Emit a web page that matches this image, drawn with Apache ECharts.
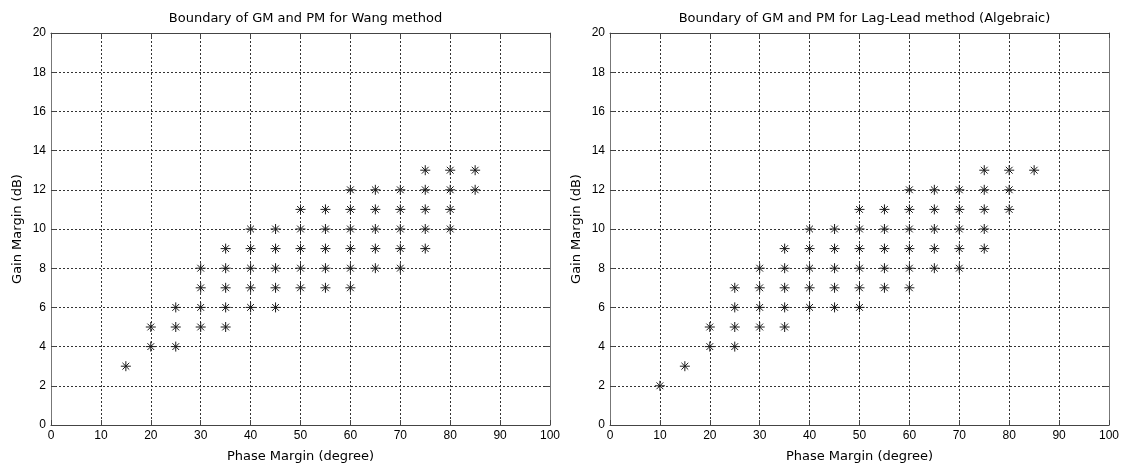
<!DOCTYPE html>
<html>
<head>
<meta charset="utf-8">
<script src="https://cdn.jsdelivr.net/npm/echarts@6/dist/echarts.min.js"></script>
<style>
  html, body { margin: 0; padding: 0; background: #fff; }
  #chart { width: 1132px; height: 468px; }
</style>
</head>
<body>
<div id="chart"></div>
<script>
// Phase margin (degree) / gain margin (dB) pairs that meet the design boundary
const wangPoints = [
  [15, 3],
  [20, 4], [20, 5],
  [25, 4], [25, 5], [25, 6],
  [30, 5], [30, 6], [30, 7], [30, 8],
  [35, 5], [35, 6], [35, 7], [35, 8], [35, 9],
  [40, 6], [40, 7], [40, 8], [40, 9], [40, 10],
  [45, 6], [45, 7], [45, 8], [45, 9], [45, 10],
  [50, 7], [50, 8], [50, 9], [50, 10], [50, 11],
  [55, 7], [55, 8], [55, 9], [55, 10], [55, 11],
  [60, 7], [60, 8], [60, 9], [60, 10], [60, 11], [60, 12],
  [65, 8], [65, 9], [65, 10], [65, 11], [65, 12],
  [70, 8], [70, 9], [70, 10], [70, 11], [70, 12],
  [75, 9], [75, 10], [75, 11], [75, 12], [75, 13],
  [80, 10], [80, 11], [80, 12], [80, 13],
  [85, 12], [85, 13]
];

const lagLeadPoints = [
  [10, 2],
  [15, 3],
  [20, 4], [20, 5],
  [25, 4], [25, 5], [25, 6], [25, 7],
  [30, 5], [30, 6], [30, 7], [30, 8],
  [35, 5], [35, 6], [35, 7], [35, 8], [35, 9],
  [40, 6], [40, 7], [40, 8], [40, 9], [40, 10],
  [45, 6], [45, 7], [45, 8], [45, 9], [45, 10],
  [50, 6], [50, 7], [50, 8], [50, 9], [50, 10], [50, 11],
  [55, 7], [55, 8], [55, 9], [55, 10], [55, 11],
  [60, 7], [60, 8], [60, 9], [60, 10], [60, 11], [60, 12],
  [65, 8], [65, 9], [65, 10], [65, 11], [65, 12],
  [70, 8], [70, 9], [70, 10], [70, 11], [70, 12],
  [75, 9], [75, 10], [75, 11], [75, 12], [75, 13],
  [80, 11], [80, 12], [80, 13],
  [85, 13]
];

const titles = [
  'Boundary of GM and PM for Wang method',
  'Boundary of GM and PM for Lag-Lead method (Algebraic)'
];
const xName = 'Phase Margin (degree)';
const yName = 'Gain Margin (dB)';

const TEXT_FONT = "'DejaVu Sans', Verdana, sans-serif";
const TICK_FONT = "'Liberation Sans', Arial, Helvetica, sans-serif";
const ASTERISK = 'path://M5,0L5,10M0,5L10,5M1.6,1.6L8.4,8.4M8.4,1.6L1.6,8.4';

const grids = [
  { left: 51, right: 1132 - 550, top: 33, bottom: 468 - 426 },
  { left: 610, right: 1132 - 1109, top: 33, bottom: 468 - 426 }
];

function axisCommon(color) {
  return {
    axisLine: { show: true, onZero: false, lineStyle: { color: color, width: 1 } },
    axisTick: { show: true, inside: true, length: 5, lineStyle: { color: '#444' } }
  };
}

const gridLine = { show: true, lineStyle: { color: '#333', type: [2, 2], width: 1 } };

const xAxes = [], yAxes = [], series = [], titleOpts = [];
[wangPoints, lagLeadPoints].forEach((pts, i) => {
  // bottom x axis with labels and grid
  xAxes.push(Object.assign(axisCommon('#444'), {
    gridIndex: i, type: 'value', min: 0, max: 100, interval: 10, position: 'bottom',
    name: xName, nameLocation: 'middle', nameGap: 25,
    nameTextStyle: { fontFamily: TEXT_FONT, fontSize: 13, color: '#000' },
    axisLabel: { fontFamily: TICK_FONT, fontSize: 12, color: '#000', margin: 5 },
    splitLine: gridLine
  }));
  // top x axis: frame edge with ticks only
  xAxes.push(Object.assign(axisCommon('#444'), {
    gridIndex: i, type: 'value', min: 0, max: 100, interval: 10, position: 'top',
    axisLabel: { show: false }, splitLine: { show: false }
  }));
  yAxes.push(Object.assign(axisCommon('#777'), {
    gridIndex: i, type: 'value', min: 0, max: 20, interval: 2, position: 'left',
    name: yName, nameLocation: 'middle', nameGap: 27, nameRotate: 90,
    nameTextStyle: { fontFamily: TEXT_FONT, fontSize: 13, color: '#000' },
    axisLabel: { fontFamily: TICK_FONT, fontSize: 12, color: '#000', margin: 5 },
    splitLine: gridLine
  }));
  yAxes.push(Object.assign(axisCommon('#777'), {
    gridIndex: i, type: 'value', min: 0, max: 20, interval: 2, position: 'right',
    axisLabel: { show: false }, splitLine: { show: false }
  }));
  series.push({
    type: 'scatter', xAxisIndex: i * 2, yAxisIndex: i * 2,
    data: pts, symbol: ASTERISK, symbolSize: 10,
    itemStyle: { color: 'rgba(0,0,0,0)', borderColor: '#1a1a1a', borderWidth: 1, opacity: 1 },
    emphasis: { disabled: true }, silent: true
  });
  const g = grids[i];
  const cx = g.left + (1132 - g.right - g.left) / 2;
  titleOpts.push({
    text: titles[i], left: cx, top: 7, textAlign: 'center',
    textStyle: { fontFamily: TEXT_FONT, fontSize: 13, fontWeight: 'normal', color: '#000' }
  });
});

const chart = echarts.init(document.getElementById('chart'), null, { renderer: 'canvas' });
chart.setOption({
  backgroundColor: '#fff',
  animation: false,
  title: titleOpts,
  grid: grids,
  xAxis: xAxes,
  yAxis: yAxes,
  series: series
});
</script>
</body>
</html>
